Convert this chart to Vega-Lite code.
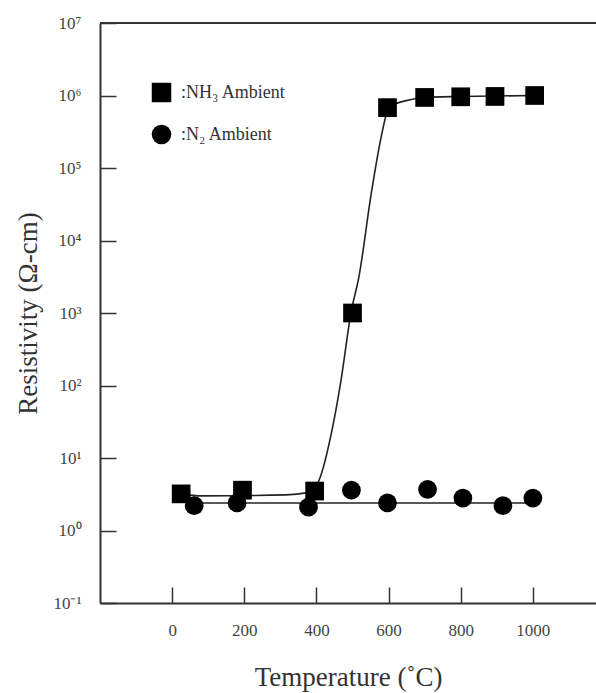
{
  "$schema": "https://vega.github.io/schema/vega-lite/v6.json",
  "width": 496,
  "height": 580,
  "autosize": {"type": "none"},
  "padding": {"left": 100, "top": 23, "right": 0, "bottom": 90},
  "background": "white",
  "config": {
    "view": {"stroke": null},
    "font": "Liberation Serif",
    "axis": {
      "grid": false,
      "domainColor": "#333",
      "domainWidth": 2,
      "tickColor": "#333",
      "tickWidth": 1.5,
      "tickSize": -16,
      "labelFont": "Liberation Serif",
      "labelColor": "#444",
      "labelFlush": false,
      "labelOverlap": false,
      "titleFont": "Liberation Serif",
      "titleFontSize": 27,
      "titleFontWeight": "normal",
      "titleColor": "#333"
    }
  },
  "datasets": {
    "points": [
      {"t": 25, "r": 3.2, "series": ":NH₃ Ambient"},
      {"t": 195, "r": 3.6, "series": ":NH₃ Ambient"},
      {"t": 395, "r": 3.5, "series": ":NH₃ Ambient"},
      {"t": 500, "r": 1000, "series": ":NH₃ Ambient"},
      {"t": 597, "r": 680000, "series": ":NH₃ Ambient"},
      {"t": 700, "r": 940000, "series": ":NH₃ Ambient"},
      {"t": 800, "r": 960000, "series": ":NH₃ Ambient"},
      {"t": 895, "r": 970000, "series": ":NH₃ Ambient"},
      {"t": 1005, "r": 1000000, "series": ":NH₃ Ambient"},
      {"t": 61, "r": 2.2, "series": ":N₂ Ambient"},
      {"t": 180, "r": 2.4, "series": ":N₂ Ambient"},
      {"t": 378, "r": 2.1, "series": ":N₂ Ambient"},
      {"t": 497, "r": 3.6, "series": ":N₂ Ambient"},
      {"t": 597, "r": 2.4, "series": ":N₂ Ambient"},
      {"t": 708, "r": 3.7, "series": ":N₂ Ambient"},
      {"t": 806, "r": 2.8, "series": ":N₂ Ambient"},
      {"t": 917, "r": 2.2, "series": ":N₂ Ambient"},
      {"t": 1000, "r": 2.8, "series": ":N₂ Ambient"}
    ],
    "fits": [
      {"t": 22, "r": 3.2, "fit": "NH3"},
      {"t": 83, "r": 3.0, "fit": "NH3"},
      {"t": 316, "r": 3.1, "fit": "NH3"},
      {"t": 371, "r": 3.3, "fit": "NH3"},
      {"t": 394, "r": 3.8, "fit": "NH3"},
      {"t": 407, "r": 4.9, "fit": "NH3"},
      {"t": 443, "r": 24, "fit": "NH3"},
      {"t": 468, "r": 117, "fit": "NH3"},
      {"t": 496, "r": 1020, "fit": "NH3"},
      {"t": 518, "r": 3200, "fit": "NH3"},
      {"t": 552, "r": 44700, "fit": "NH3"},
      {"t": 579, "r": 260000, "fit": "NH3"},
      {"t": 596, "r": 590000, "fit": "NH3"},
      {"t": 615, "r": 750000, "fit": "NH3"},
      {"t": 649, "r": 850000, "fit": "NH3"},
      {"t": 698, "r": 940000, "fit": "NH3"},
      {"t": 800, "r": 970000, "fit": "NH3"},
      {"t": 1003, "r": 1000000, "fit": "NH3"},
      {"t": 61, "r": 2.4, "fit": "N2"},
      {"t": 1000, "r": 2.4, "fit": "N2"}
    ]
  },
  "layer": [
    {
      "data": {"values": [{"top": 10000000}]},
      "mark": {"type": "rule", "color": "#333", "strokeWidth": 2},
      "encoding": {
        "y": {"field": "top", "type": "quantitative", "scale": {"type": "log", "domain": [0.1, 10000000]}}
      }
    },
    {
      "data": {"name": "fits"},
      "mark": {"type": "line", "interpolate": "monotone", "color": "#222", "strokeWidth": 1.6},
      "encoding": {
        "x": {"field": "t", "type": "quantitative"},
        "y": {"field": "r", "type": "quantitative"},
        "detail": {"field": "fit"}
      }
    },
    {
      "data": {"name": "points"},
      "mark": {"type": "point", "filled": true, "opacity": 1, "color": "black", "size": 350},
      "encoding": {
        "x": {
          "field": "t", "type": "quantitative",
          "scale": {"domain": [-200, 1175], "nice": false, "zero": false},
          "axis": {"title": "Temperature (˚C)", "values": [0, 200, 400, 600, 800, 1000], "format": "d", "labelFontSize": 17, "labelPadding": 35, "titlePadding": 26}
        },
        "y": {
          "field": "r", "type": "quantitative",
          "scale": {"type": "log", "domain": [0.1, 10000000], "nice": false},
          "axis": {
            "title": "Resistivity (Ω-cm)",
            "values": [0.1, 1, 10, 100, 1000, 10000, 100000, 1000000, 10000000],
            "labelExpr": "['10⁻¹','10⁰','10¹','10²','10³','10⁴','10⁵','10⁶','10⁷'][round(log(datum.value)/LN10)+1]",
            "labelPadding": 35,
            "labelFontSize": 17,
            "titlePadding": 10
          }
        },
        "shape": {
          "field": "series", "type": "nominal",
          "scale": {"domain": [":NH₃ Ambient", ":N₂ Ambient"], "range": ["square", "circle"]},
          "legend": {
            "title": null, "orient": "none", "legendX": 51, "legendY": 59,
            "padding": 0, "rowPadding": 15, "symbolSize": 380, "symbolType": "circle",
            "symbolFillColor": "black", "symbolStrokeColor": "black", "symbolOpacity": 1,
            "labelFont": "Liberation Serif", "labelFontSize": 18, "labelColor": "#333", "labelOffset": 9
          }
        }
      }
    }
  ]
}
